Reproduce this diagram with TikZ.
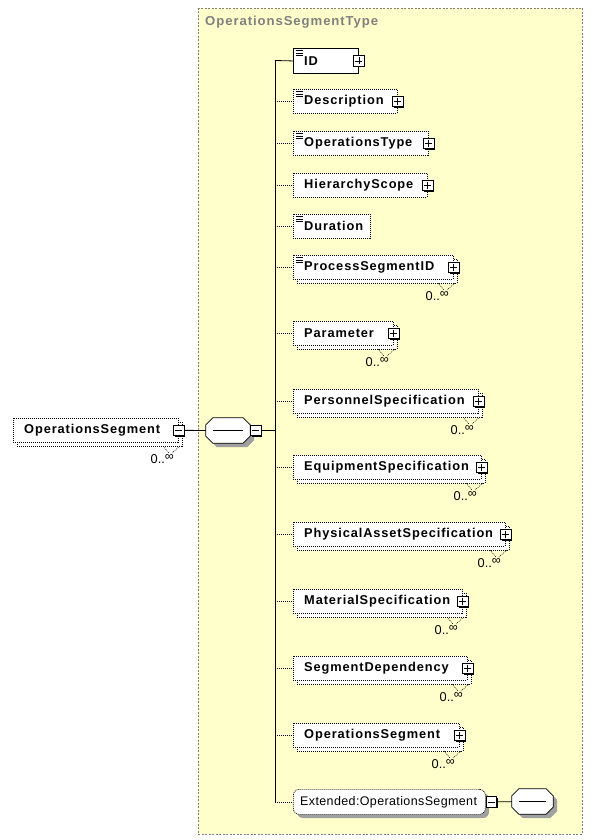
\documentclass[tikz,border=0pt]{standalone}
\usepackage{fontspec}
\usepackage{graphicx}
\setmainfont{Liberation Sans}
\newfontfamily\elfont[LetterSpace=7]{Liberation Sans}
\newfontfamily\extfont[LetterSpace=3]{Liberation Sans}
\usetikzlibrary{calc}
\definecolor{panelfill}{RGB}{255,255,204}
\definecolor{titlegray}{RGB}{128,128,128}
\definecolor{shadowgray}{RGB}{160,160,160}

\tikzset{
  dotln/.style={line width=0.7pt, dash pattern=on 1pt off 1pt},
  elbox/.style={draw, fill=white, dotln, rectangle, minimum height=24pt,
    inner sep=0pt, anchor=north west},
  reqbox/.style={solid, line width=0.9pt},
  ellabel/.style={anchor=west, inner sep=0pt,
    font=\fontsize{12.8}{14}\selectfont\elfont\bfseries},
  multlabel/.style={anchor=base east, inner sep=0pt,
    font=\fontsize{12.8}{14}\selectfont},
  pmbox/.style={draw, fill=white, line width=0.7pt, minimum size=10.5pt,
    inner sep=0pt, rectangle},
  pmshadow/.style={fill=black, minimum size=10.5pt, inner sep=0pt, rectangle},
  plussign/.style={path picture={
    \draw[line width=0.7pt] ([xshift=1.8pt]path picture bounding box.west) --
      ([xshift=-1.8pt]path picture bounding box.east);
    \draw[line width=0.7pt] ([yshift=-1.8pt]path picture bounding box.north) --
      ([yshift=1.8pt]path picture bounding box.south);}},
  minussign/.style={path picture={
    \draw[line width=0.7pt] ([xshift=1.8pt]path picture bounding box.west) --
      ([xshift=-1.8pt]path picture bounding box.east);}},
  seqframe/.style={draw=none, minimum height=25pt, inner sep=0pt, rectangle},
  octshade/.style={fill=shadowgray},
  octline/.style={draw, fill=white, line width=0.8pt},
  conn/.style={line width=0.8pt},
}

% element box: name, left, top, right, extra style, label
\newcommand\sdelem[6]{%
  \pgfmathsetmacro\sdwidth{#4-#2}%
  \node[elbox,#5,minimum width=\sdwidth pt] (#1) at (#2,#3) {};
  \node[ellabel] (#1-t) at ([xshift=11pt]#1.west) {#6};
}
% second outline behind a repeating element: left, top, right
\newcommand\sdback[3]{%
  \draw[dotln, fill=white] ({#1+4},{#2+4}) rectangle ({#3+4},{#2+28});
}
% occurrence label under a repeating element: name, top, right
\newcommand\sdmult[3]{%
  \draw[dotln, line width=0.5pt] ({#3-15},{#2+28}) -- ({#3-9},{#2+35});
  \draw[dotln, line width=0.5pt] ({#3+2},{#2+28}) -- ({#3-6},{#2+35});
  \node[multlabel] (#1-m) at ({#3-4},{#2+45})
    {0..\raisebox{3pt}{\fontsize{12.5}{12}\selectfont ∞}};
}
% expand / collapse button on a node anchor: name, anchor point, sign style
\newcommand\sdbutton[3]{%
  \node[pmshadow] at ([shift={(1.3,1.3)}]#2) {};
  \node[pmbox,#3] (#1) at (#2) {};
}
% small lines icon for simple content
\newcommand\sdicon[1]{%
  \foreach \k in {0,1,2}
    \draw[line width=0.6pt] ([shift={(3,{2.5+2.4*\k})}]#1.north west) -- ++(7,0);
}
% sequence compositor octagon around a frame node, with grey shadow
\newcommand\sdoct[1]{%
  \foreach \dx/\st in {4/octshade, 0/octline}
    \path[\st]
      ([shift={({7+\dx},\dx)}]#1.north west) -- ([shift={({-7+\dx},\dx)}]#1.north east) --
      ([shift={(\dx,{7+\dx})}]#1.north east) -- ([shift={(\dx,{-7+\dx})}]#1.south east) --
      ([shift={({-7+\dx},\dx)}]#1.south east) -- ([shift={({7+\dx},\dx)}]#1.south west) --
      ([shift={(\dx,{-7+\dx})}]#1.south west) -- ([shift={(\dx,{7+\dx})}]#1.north west) -- cycle;
  \draw[line width=0.8pt] ([xshift=7pt]#1.west) -- ([xshift=-7pt]#1.east);
}

\begin{document}
\begin{tikzpicture}[x=1pt,y=-1pt]
\useasboundingbox (0,0) rectangle (595,840);
\fill[white] (0,0) rectangle (595,840);

% type panel
\draw[titlegray, line width=0.6pt, dash pattern=on 2pt off 1.5pt, fill=panelfill]
  (198,8) rectangle (582,834);
\node[anchor=west, inner sep=0pt, text=titlegray,
  font=\fontsize{13}{14}\selectfont\elfont\bfseries] (title) at (205,22)
  {\resizebox{173pt}{\height}{OperationsSegmentType}};

% trunk of the sequence
\coordinate (trunktop) at (275,60.5);
\coordinate (trunkbot) at (275,801.5);
\draw[conn] (trunktop) -- (trunkbot);

% left element and sequence compositor
\sdback{13}{418}{178}
\sdelem{root}{13}{418}{178}{}{OperationsSegment}
\sdbutton{root-pm}{root.east}{minussign}
\sdmult{root}{418}{178}
\node[seqframe, minimum width=44pt] (seq) at (228,430.5) {};
\sdoct{seq}
\sdbutton{seq-pm}{$(seq.east)+(5.5,0)$}{minussign}
\draw[conn] (root-pm) -- (seq);
\draw[conn] (seq-pm) -- (seq-pm -| trunktop);

% child elements
\sdelem{id}{293}{48}{358}{reqbox, minimum height=25pt}{ID}
\sdicon{id}
\sdbutton{id-pm}{id.east}{plussign}

\sdelem{desc}{293}{89}{397}{}{Description}
\sdicon{desc}
\sdbutton{desc-pm}{desc.east}{plussign}

\sdelem{optype}{293}{131}{428}{}{OperationsType}
\sdicon{optype}
\sdbutton{optype-pm}{optype.east}{plussign}

\sdelem{hscope}{293}{173}{427}{}{HierarchyScope}
\sdbutton{hscope-pm}{hscope.east}{plussign}

\sdelem{dur}{293}{214}{370}{}{Duration}
\sdicon{dur}

\sdback{293}{255}{453}
\sdelem{psid}{293}{255}{453}{}{ProcessSegmentID}
\sdicon{psid}
\sdbutton{psid-pm}{psid.east}{plussign}
\sdmult{psid}{255}{453}

\sdback{293}{321}{393}
\sdelem{param}{293}{321}{393}{}{Parameter}
\sdbutton{param-pm}{param.east}{plussign}
\sdmult{param}{321}{393}

\sdback{293}{389}{478}
\sdelem{pers}{293}{389}{478}{}{PersonnelSpecification}
\sdbutton{pers-pm}{pers.east}{plussign}
\sdmult{pers}{389}{478}

\sdback{293}{455}{481}
\sdelem{equip}{293}{455}{481}{}{EquipmentSpecification}
\sdbutton{equip-pm}{equip.east}{plussign}
\sdmult{equip}{455}{481}

\sdback{293}{522}{505}
\sdelem{phys}{293}{522}{505}{}{PhysicalAssetSpecification}
\sdbutton{phys-pm}{phys.east}{plussign}
\sdmult{phys}{522}{505}

\sdback{293}{589}{462}
\sdelem{mat}{293}{589}{462}{}{MaterialSpecification}
\sdbutton{mat-pm}{mat.east}{plussign}
\sdmult{mat}{589}{462}

\sdback{293}{656}{467}
\sdelem{segdep}{293}{656}{467}{}{SegmentDependency}
\sdbutton{segdep-pm}{segdep.east}{plussign}
\sdmult{segdep}{656}{467}

\sdback{293}{723}{459}
\sdelem{opseg}{293}{723}{459}{}{OperationsSegment}
\sdbutton{opseg-pm}{opseg.east}{plussign}
\sdmult{opseg}{723}{459}

% extension group
\fill[shadowgray, rounded corners=6pt] (297,793) rectangle (489,818);
\node[draw, fill=white, dotln, rounded corners=6pt, minimum width=192pt,
  minimum height=25pt, inner sep=0pt, anchor=north west] (ext) at (293,789) {};
\node[anchor=west, inner sep=0pt, font=\fontsize{12.5}{14}\selectfont\extfont]
  (ext-t) at ([xshift=7pt]ext.west) {Extended:OperationsSegment};
\sdbutton{ext-pm}{$(ext.east)+(5.5,0)$}{minussign}
\node[seqframe, minimum width=41pt] (extseq) at (532.5,801.5) {};
\sdoct{extseq}
\draw[conn] (ext-pm) -- (extseq);

% branches from the trunk
\draw[conn] (trunktop) -- (id.west);
\foreach \n in {desc,optype,hscope,dur,psid,param,pers,equip,phys,mat,segdep,opseg,ext}
  \draw[dotln] (\n.west -| trunktop) -- (\n.west);
\end{tikzpicture}
\end{document}
